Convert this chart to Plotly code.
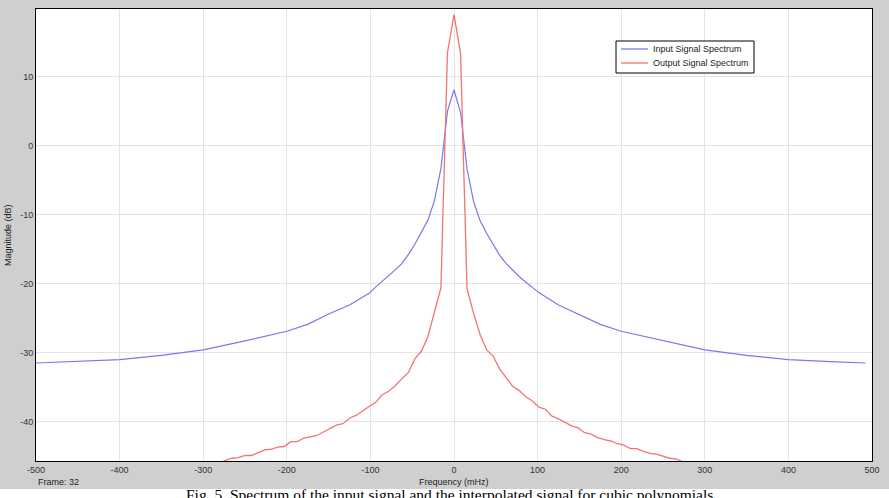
import plotly.graph_objects as go

# ---------------- data ----------------
input_freq = [-500, -450, -400, -350, -300, -250, -200, -175, -150, -125, -101.56, -93.75,
              -85.94, -78.13, -70.31, -62.5, -54.69, -46.88, -39.06, -31.25, -23.44, -15.63,
              -7.81, 0, 7.81, 15.63, 23.44, 31.25, 39.06, 46.88, 54.69, 62.5, 70.31, 78.13,
              85.94, 93.75, 101.56, 125, 150, 175, 200, 250, 300, 350, 400, 450, 492.19]
input_db = [-31.5, -31.3, -31.0, -30.4, -29.6, -28.3, -26.9, -25.9, -24.4, -23.1, -21.4, -20.5,
            -19.7, -18.9, -18.0, -17.1, -15.8, -14.3, -12.6, -10.8, -8.0, -3.3,
            5.0, 8.1, 4.8, -3.4, -8.1, -10.9, -12.7, -14.4, -15.9, -17.1, -18.1, -19.0,
            -19.8, -20.5, -21.3, -23.1, -24.5, -25.9, -26.9, -28.3, -29.6, -30.4, -31.0, -31.3, -31.5]

output_freq = [-289.06, -281.25, -273.44, -265.63, -257.81, -250.0, -242.19, -234.38, -226.56,
               -218.75, -210.94, -203.13, -195.31, -187.5, -179.69, -171.88, -164.06, -156.25,
               -148.44, -140.63, -132.81, -125.0, -117.19, -109.38, -101.56, -93.75, -85.94,
               -78.13, -70.31, -62.5, -54.69, -46.88, -39.06, -31.25, -23.44, -15.63, -7.81,
               0,
               7.81, 15.63, 23.44, 31.25, 39.06, 46.88, 54.69, 62.5, 70.31, 78.13, 85.94, 93.75,
               101.56, 109.38, 117.19, 125.0, 132.81, 140.63, 148.44, 156.25, 164.06, 171.88,
               179.69, 187.5, 195.31, 203.13, 210.94, 218.75, 226.56, 234.38, 242.19, 250.0,
               257.81, 265.63, 273.44, 281.25, 289.06]
output_db = [-46.3, -46.0, -45.7, -45.3, -45.2, -44.9, -44.9, -44.5, -44.1, -44.0, -43.7, -43.6,
             -42.9, -42.9, -42.4, -42.2, -42.0, -41.5, -41.0, -40.5, -40.3, -39.5, -39.1, -38.4,
             -37.8, -37.2, -36.1, -35.6, -34.8, -33.8, -32.9, -30.9, -29.8, -27.7, -24.0, -20.6,
             13.5,
             19.0,
             13.4, -20.8, -24.3, -27.4, -29.6, -30.5, -32.4, -33.6, -34.9, -35.5, -36.4, -37.0,
             -37.9, -38.2, -39.2, -39.6, -40.1, -40.6, -40.9, -41.6, -41.8, -42.3, -42.6, -42.8,
             -43.2, -43.4, -43.9, -43.9, -44.3, -44.6, -44.7, -45.0, -45.3, -45.4, -45.8, -46.0,
             -46.3]

series_names = ["Input Signal Spectrum", "Output Signal Spectrum"]
series_colors = ["#7878f0", "#f27474"]

x_ticks = [-500, -400, -300, -200, -100, 0, 100, 200, 300, 400, 500]
x_tick_labels = ["-500", "-400", "-300", "-200", "-100", "0", "100", "200", "300", "400", "500"]
y_ticks = [-40, -30, -20, -10, 0, 10]
y_tick_labels = ["-40", "-30", "-20", "-10", "0", "10"]

# ---------------- layout geometry ----------------
W, H = 889, 498
L, R, T, B = 36, 872, 9, 461


def px(xp):
    return (xp - L) / (R - L)


def py(yp):
    return (B - yp) / (B - T)


FONT = "Liberation Sans, Arial, sans-serif"
GRAY = "#cfcfcf"

fig = go.Figure()
fig.add_trace(go.Scatter(x=input_freq, y=input_db, mode="lines", name=series_names[0],
                         line=dict(color=series_colors[0], width=1.2), showlegend=False))
fig.add_trace(go.Scatter(x=output_freq, y=output_db, mode="lines", name=series_names[1],
                         line=dict(color=series_colors[1], width=1.3), showlegend=False))

axis_common = dict(showline=True, linecolor="black", linewidth=1, mirror=True,
                   showgrid=True, gridcolor="#e4e4e4", gridwidth=1, zeroline=False,
                   ticks="", tickfont=dict(family=FONT, size=9, color="#333333"))

fig.update_xaxes(range=[-500, 500], tickvals=x_ticks, ticktext=x_tick_labels, **axis_common)
fig.update_yaxes(range=[-45.7, 19.8], tickvals=y_ticks, ticktext=y_tick_labels, **axis_common)

# manual legend (box, line samples, labels)
legend_box = dict(type="rect", xref="paper", yref="paper", x0=px(616), x1=px(754),
                  y0=py(73), y1=py(41), fillcolor="white",
                  line=dict(color="black", width=1), layer="above")
shapes = [
    dict(type="rect", xref="paper", yref="paper", x0=px(-5), x1=px(W + 5),
         y0=py(489), y1=py(H + 10), fillcolor="white", line=dict(width=0), layer="below"),
    legend_box,
]
annotations = []
for i, (nm, col) in enumerate(zip(series_names, series_colors)):
    yy = 49 + 14 * i
    shapes.append(dict(type="line", xref="paper", yref="paper", x0=px(621), x1=px(648),
                       y0=py(yy), y1=py(yy), line=dict(color=col, width=1.3), layer="above"))
    annotations.append(dict(text=nm, xref="paper", yref="paper", x=px(651), y=py(yy),
                            showarrow=False, xanchor="left", yanchor="middle",
                            font=dict(family=FONT, size=9, color="#222222")))

annotations += [
    dict(text="Frequency (mHz)", xref="paper", yref="paper", x=px(454), y=py(482),
         showarrow=False, font=dict(family=FONT, size=9, color="#222222"),
         xanchor="center", yanchor="middle"),
    dict(text="Frame: 32", xref="paper", yref="paper", x=px(36), y=py(482),
         showarrow=False, font=dict(family=FONT, size=9, color="#222222"),
         xanchor="left", yanchor="middle"),
    dict(text="Magnitude (dB)", xref="paper", yref="paper", x=px(8), y=py(235),
         showarrow=False, textangle=-90, font=dict(family=FONT, size=9, color="#222222"),
         xanchor="center", yanchor="middle"),
    dict(text="Fig. 5. Spectrum of the input signal and the interpolated signal for cubic polynomials",
         xref="paper", yref="paper", x=px(449), y=py(484), showarrow=False,
         font=dict(family="Liberation Serif, Times New Roman, serif", size=15.5, color="black"),
         xanchor="center", yanchor="top"),
]

fig.update_layout(
    width=W, height=H,
    margin=dict(l=L, r=W - R, t=T, b=H - B, pad=0),
    paper_bgcolor=GRAY, plot_bgcolor="white",
    showlegend=False,
    shapes=shapes,
    annotations=annotations,
)

fig.write_html("out.html")
